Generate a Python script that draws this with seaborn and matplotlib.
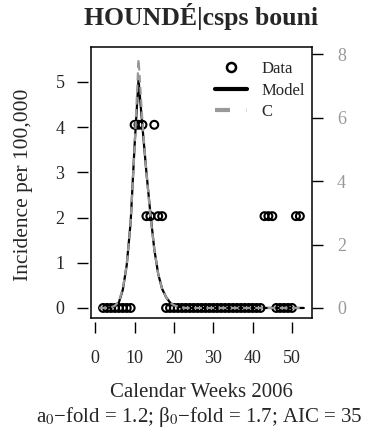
import pandas as pd
import seaborn as sns
import matplotlib.pyplot as plt
from matplotlib.lines import Line2D

# observed incidence per 100,000 by calendar week
data_weeks = list(range(2, 53))
data_incidence = ([0] * 8 +                       # weeks 2-9
                  [4.05, 4.05, 4.05, 2.03, 2.03, 4.05, 2.03, 2.03] +   # weeks 10-17
                  [0] * 25 +                      # weeks 18-42
                  [2.03, 2.03, 2.03] +            # weeks 43-45
                  [0] * 5 +                       # weeks 46-50
                  [2.03, 2.03])                   # weeks 51-52

# fitted curves
fit_weeks = list(range(1, 54))
model_fit = ([0, 0, 0, 0.01, 0.03, 0.12, 0.4, 0.95, 1.9, 3.6, 5.05, 4.0, 3.0,
              2.1, 1.3, 0.75, 0.42, 0.24, 0.12, 0.06, 0.03, 0.01] + [0] * 31)
c_fit = ([0, 0, 0, 0.01, 0.05, 0.15, 0.42, 0.95, 1.9, 3.55, 5.5, 4.1, 3.0,
          2.05, 1.3, 0.75, 0.42, 0.24, 0.12, 0.06, 0.03, 0.01] + [0] * 31)

obs = pd.DataFrame({"week": data_weeks, "incidence": data_incidence})
fits = pd.DataFrame({"week": fit_weeks, "model": model_fit, "c": c_fit})

sns.set_style("ticks")
plt.rcParams["font.family"] = ["Liberation Serif", "DejaVu Serif"]
plt.rcParams["mathtext.fontset"] = "stix"

W, H = 368, 432
fig = plt.figure(figsize=(W / 100, H / 100), dpi=100)
ax = fig.add_axes([91 / W, 1 - 318 / H, (312 - 91) / W, (318 - 47) / H])

grey = "#999999"
sns.scatterplot(data=obs, x="week", y="incidence", ax=ax, marker="o", s=32,
                facecolor="none", edgecolor="black", linewidth=1.5, zorder=2, legend=False)
sns.lineplot(data=fits, x="week", y="model", ax=ax, color="black", linewidth=1.6, zorder=3)
sns.lineplot(data=fits, x="week", y="c", ax=ax, color=grey, linewidth=1.6,
             linestyle=(0, (3.5, 2)), zorder=4)

ax.set_xlim(-1.08, 55.08)
ax.set_ylim(-0.222, 5.77)
ax.set_xticks(range(0, 51, 10))
ax.set_yticks(range(0, 6))
ax.set_xlabel("")
ax.set_ylabel("")
for s in ax.spines.values():
    s.set_visible(False)
ax.spines["left"].set_position(("outward", 2))
ax.spines["bottom"].set_position(("outward", 3))
ax.tick_params(axis="both", length=8, width=1, labelsize=13, color="black")
ax.tick_params(axis="x", pad=12)
ax.tick_params(axis="y", pad=9)

ax2 = ax.twinx()
ax2.set_ylim(-0.317, 8.23)
ax2.set_yticks(range(0, 9, 2))
for s in ax2.spines.values():
    s.set_visible(True)
    s.set_linewidth(1.1)
    s.set_color("black")
ax2.tick_params(axis="y", length=8, width=1, labelsize=13, pad=10,
                color="black", labelcolor=grey)

handles = [Line2D([], [], marker="o", ls="none", mfc="none", mec="black", mew=1.8, ms=6.5),
           Line2D([], [], color="black", lw=3),
           Line2D([], [], color=grey, lw=3, ls=(0, (3.6, 4)))]
ax.legend(handles, ["Data", "Model", "C"], loc="upper right", frameon=False,
          bbox_to_anchor=(1.0, 0.972), borderaxespad=0,
          fontsize=12, handlelength=1.9, labelspacing=0.33, handletextpad=0.88)

fig.text(201.5 / W, 1 - 17 / H, "HOUNDÉ|csps bouni", ha="center", va="center",
         fontsize=18.5, fontweight="bold")
fig.text(24 / W, 1 - 185 / H, "Incidence per 100,000", ha="center", va="center",
         rotation=90, fontsize=15.5)
fig.text(201.5 / W, 1 - 397 / H, "Calendar Weeks 2006", ha="center", va="baseline",
         fontsize=15)
fig.text(199 / W, 1 - 422 / H,
         "a$_0$\u2212fold = 1.2; \u03b2$_0$\u2212fold = 1.7; AIC = 35",
         ha="center", va="baseline", fontsize=15)

fig.savefig("out.png", dpi=100)
